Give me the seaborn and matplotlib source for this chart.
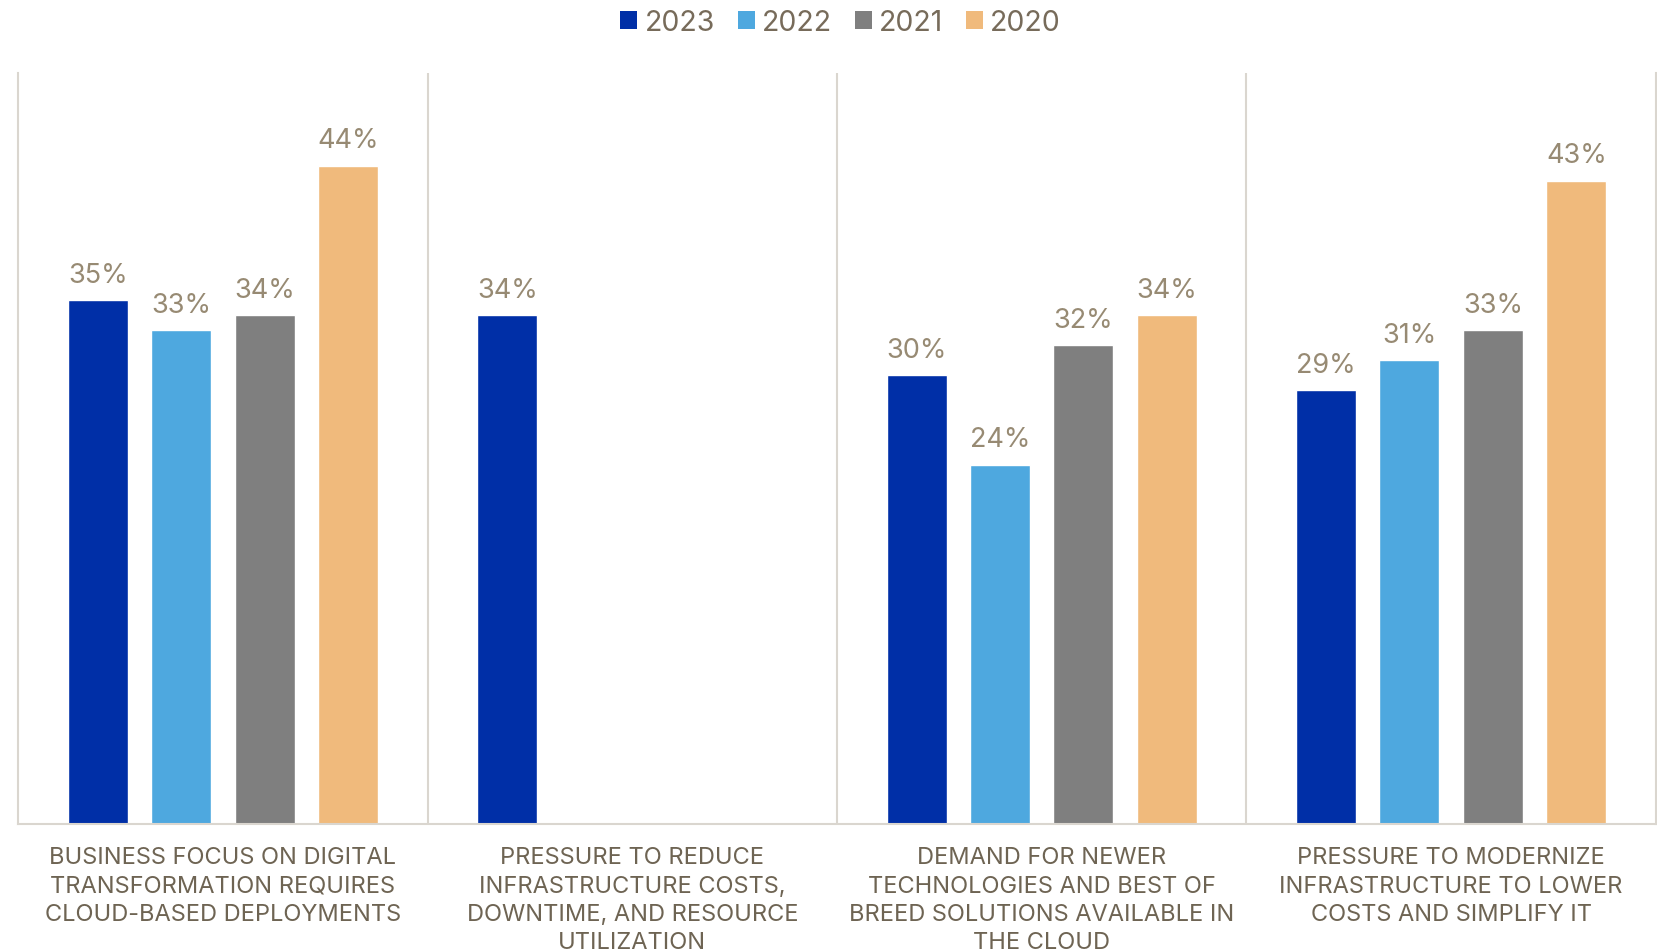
import matplotlib
matplotlib.use("Agg")
import matplotlib.pyplot as plt
import seaborn as sns
import pandas as pd
import numpy as np
from matplotlib.ticker import FixedLocator
from matplotlib.patches import Patch

categories = [
    "BUSINESS FOCUS ON DIGITAL\nTRANSFORMATION REQUIRES\nCLOUD-BASED DEPLOYMENTS",
    "PRESSURE TO REDUCE\nINFRASTRUCTURE COSTS,\nDOWNTIME, AND RESOURCE\nUTILIZATION",
    "DEMAND FOR NEWER\nTECHNOLOGIES AND BEST OF\nBREED SOLUTIONS AVAILABLE IN\nTHE CLOUD",
    "PRESSURE TO MODERNIZE\nINFRASTRUCTURE TO LOWER\nCOSTS AND SIMPLIFY IT",
]
years = ["2023", "2022", "2021", "2020"]
values_2023 = [35, 34, 30, 29]
values_2022 = [33, np.nan, 24, 31]
values_2021 = [34, np.nan, 32, 33]
values_2020 = [44, np.nan, 34, 43]
colors = ["#002FA7", "#4EA8DF", "#7F7F7F", "#F0BA7C"]

series = [values_2023, values_2022, values_2021, values_2020]
rows = []
for year, vals in zip(years, series):
    for cat, v in zip(categories, vals):
        rows.append({"category": cat, "year": year, "value": v})
df = pd.DataFrame(rows)

sns.set_theme(style="white")
plt.rcParams["font.family"] = ["Inter", "DejaVu Sans"]

fig = plt.figure(figsize=(16.58, 9.53), dpi=100)
ax = fig.add_axes([0.011, 0.1343, 0.9877, 0.788])

sns.barplot(data=df, x="category", y="value", hue="year", hue_order=years,
            order=categories, palette=colors, width=0.815, gap=0.28,
            errorbar=None, legend=False, ax=ax, saturation=1)

label_color = "#978A73"
for container in ax.containers:
    for bar in container:
        h = bar.get_height()
        if np.isnan(h):
            continue
        ax.annotate(f"{h:.0f}%", (bar.get_x() + bar.get_width() / 2, h),
                    xytext=(0, 9), textcoords="offset points",
                    ha="center", va="bottom", fontsize=19.5, color=label_color)

ax.set_ylim(0, 50.2)
ax.set_xlim(-0.5, 3.5)
ax.set_yticks([])
ax.set_xlabel("")
ax.set_ylabel("")

line_color = "#DAD6CF"
for side in ["left", "right", "bottom"]:
    ax.spines[side].set_visible(True)
    ax.spines[side].set_color(line_color)
    ax.spines[side].set_linewidth(1.5)
ax.spines["top"].set_visible(False)

ax.xaxis.set_minor_locator(FixedLocator([0.5, 1.5, 2.5]))
ax.grid(which="minor", axis="x", color=line_color, linewidth=1.5)
ax.tick_params(axis="x", which="both", length=0, pad=16)
for lbl in ax.get_xticklabels():
    lbl.set_fontsize(17)
    lbl.set_color("#6E6453")
    lbl.set_linespacing(1.37)
    lbl.set_verticalalignment("top")

handles = [Patch(facecolor=c, edgecolor="none") for c in colors]
leg = fig.legend(handles, years, loc="upper center", bbox_to_anchor=(0.507, 1.016),
                 ncol=4, frameon=False, fontsize=20.5, handlelength=0.6,
                 handleheight=0.6, handletextpad=0.25, columnspacing=0.8)
for t in leg.get_texts():
    t.set_color("#776B5A")

fig.savefig("out.png", dpi=100)
